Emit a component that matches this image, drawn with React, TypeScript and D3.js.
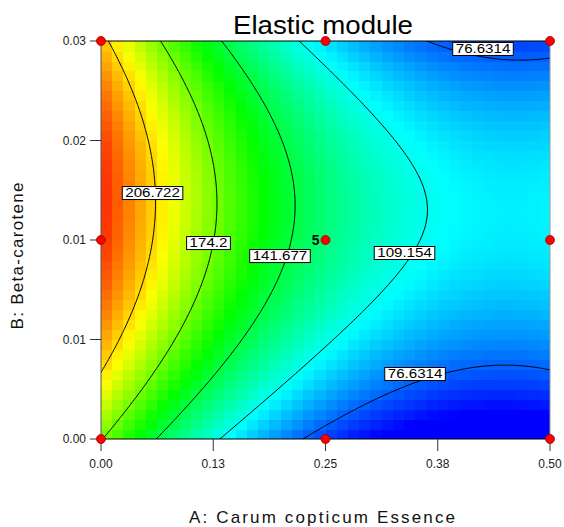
import React, { useRef, useEffect } from "react";
import * as d3 from "d3";

// factor ranges (actual units)
const aDomain = [0, 0.5];
const bDomain = [0, 0.03];

const xTicks = [0, 0.125, 0.25, 0.375, 0.5];
const xTickLabels = ["0.00", "0.13", "0.25", "0.38", "0.50"];
const yTicks = [0, 0.0075, 0.015, 0.0225, 0.03];
const yTickLabels = ["0.00", "0.01", "0.01", "0.02", "0.03"];

// response model in coded units a,b in [-1,1]:
// E = A0(b) + A1(b)*a + A2(b)*a^2 , Ak(b) = c0 + c1*b + c2*b^2
const coefA0 = [130.05, 15.65, -45.4];
const coefA1 = [-67.29, -3.17, 0.124];
const coefA2 = [40.85, -0.275, 0.077];

const contourLevels = [76.6314, 109.154, 141.677, 174.2, 206.722];

// contour labels placed on the lines (A, B)
const labelText = ["206.722", "174.2", "141.677", "109.154", "76.6314", "76.6314"];
const labelA = [0.0574, 0.1197, 0.1993, 0.338, 0.4254, 0.3497];
const labelB = [0.01854, 0.01477, 0.01379, 0.01402, 0.0294, 0.0049];

// design points
const designA = [0, 0.25, 0.5];
const designB = [0, 0.015, 0.03];
const centerRuns = 5;

// colour map stops (response value -> colour)
const colorStops = [58, 106, 153, 199, 246];
const colorRange = ["#0000ff", "#00ffff", "#00ff00", "#ffff00", "#ff0000"];

const gridN = 40;

function poly(c, b) {
  return c[0] + c[1] * b + c[2] * b * b;
}

function model(A, B) {
  const a = (A - 0.25) / 0.25;
  const b = (B - 0.015) / 0.015;
  return poly(coefA0, b) + poly(coefA1, b) * a + poly(coefA2, b) * a * a;
}

const font = "Arial, 'Liberation Sans', sans-serif";

function ContourChart(props) {
  const ref = useRef(null);
  const { width, height } = props;

  useEffect(() => {
    const svg = d3.select(ref.current);
    svg.selectAll("*").remove();

    const left = 101, top = 41, right = 550, bottom = 439;
    const x = d3.scaleLinear().domain(aDomain).range([left, right]);
    const y = d3.scaleLinear().domain(bDomain).range([bottom, top]);
    const color = d3.scaleLinear().domain(colorStops).range(colorRange).clamp(true);

    svg.append("defs").append("clipPath").attr("id", "plotClip")
      .append("rect").attr("x", left).attr("y", top)
      .attr("width", right - left).attr("height", bottom - top);

    // coloured cells
    const cells = [];
    const da = (aDomain[1] - aDomain[0]) / gridN;
    const db = (bDomain[1] - bDomain[0]) / gridN;
    for (let i = 0; i < gridN; i++) {
      for (let j = 0; j < gridN; j++) {
        const a0 = aDomain[0] + i * da;
        const b0 = bDomain[0] + j * db;
        cells.push({ a0, b0, v: model(a0 + da / 2, b0 + db / 2) });
      }
    }
    svg.append("g").attr("clip-path", "url(#plotClip)")
      .selectAll("rect").data(cells).join("rect")
      .attr("x", d => x(d.a0))
      .attr("y", d => y(d.b0 + db))
      .attr("width", x(da) - x(0) + 0.6)
      .attr("height", y(0) - y(db) + 0.6)
      .attr("fill", d => color(d.v))
      .attr("shape-rendering", "crispEdges");

    // contour lines (grid a bit wider than the plot, then clipped)
    const n = 241, m = 241;
    const ax0 = -0.01, ax1 = 0.51, by0 = -0.0006, by1 = 0.0306;
    const values = new Array(n * m);
    for (let j = 0; j < m; j++) {
      const B = by1 - (j * (by1 - by0)) / (m - 1);
      for (let i = 0; i < n; i++) {
        const A = ax0 + (i * (ax1 - ax0)) / (n - 1);
        values[j * n + i] = model(A, B);
      }
    }
    const contours = d3.contours().size([n, m]).thresholds(contourLevels)(values);
    const proj = d3.geoTransform({
      point: function (px, py) {
        const A = ax0 + (px * (ax1 - ax0)) / (n - 1);
        const B = by1 - (py * (by1 - by0)) / (m - 1);
        this.stream.point(x(A), y(B));
      },
    });
    svg.append("g").attr("clip-path", "url(#plotClip)")
      .selectAll("path").data(contours).join("path")
      .attr("d", d3.geoPath(proj))
      .attr("fill", "none")
      .attr("stroke", "#000")
      .attr("stroke-width", 1);

    // frame
    const frame = svg.append("g");
    frame.append("line").attr("x1", left).attr("x2", right).attr("y1", top).attr("y2", top).attr("stroke", "#000");
    frame.append("line").attr("x1", left).attr("x2", right).attr("y1", bottom).attr("y2", bottom).attr("stroke", "#000");
    frame.append("line").attr("x1", left).attr("x2", left).attr("y1", top).attr("y2", bottom).attr("stroke", "#555");
    frame.append("line").attr("x1", right).attr("x2", right).attr("y1", top).attr("y2", bottom).attr("stroke", "#999");

    // contour labels
    const lab = svg.append("g").selectAll("g")
      .data(labelText.map((t, i) => ({ t, a: labelA[i], b: labelB[i] })))
      .join("g")
      .attr("transform", d => `translate(${x(d.a)},${y(d.b)})`);
    lab.append("rect");
    lab.append("text")
      .attr("text-anchor", "middle")
      .attr("y", 4.3)
      .attr("font-family", font)
      .attr("font-size", 12)
      .attr("transform", "scale(1.26,1)")
      .text(d => d.t);
    lab.each(function () {
      const g = d3.select(this);
      const w = g.select("text").node().getComputedTextLength() * 1.26 + 6;
      g.select("rect")
        .attr("x", -w / 2).attr("y", -6.5)
        .attr("width", w).attr("height", 13)
        .attr("fill", "#fff").attr("stroke", "#000").attr("stroke-width", 1);
    });

    // axes
    const xa = svg.append("g");
    xa.selectAll("line").data(xTicks).join("line")
      .attr("x1", d => x(d)).attr("x2", d => x(d))
      .attr("y1", bottom).attr("y2", bottom + 12)
      .attr("stroke", "#333");
    xa.selectAll("text").data(xTicks).join("text")
      .attr("x", d => x(d)).attr("y", bottom + 29)
      .attr("text-anchor", "middle")
      .attr("font-family", font).attr("font-size", 12).attr("fill", "#222")
      .text((d, i) => xTickLabels[i]);

    const ya = svg.append("g");
    ya.selectAll("line").data(yTicks).join("line")
      .attr("x1", left - 11).attr("x2", left)
      .attr("y1", d => y(d)).attr("y2", d => y(d))
      .attr("stroke", "#333");
    ya.selectAll("text").data(yTicks).join("text")
      .attr("x", left - 15).attr("y", d => y(d) + 4)
      .attr("text-anchor", "end")
      .attr("font-family", font).attr("font-size", 12).attr("fill", "#222")
      .text((d, i) => yTickLabels[i]);

    // design points
    const pts = [];
    designA.forEach(a => designB.forEach(b => pts.push({ a, b })));
    svg.append("g").selectAll("circle").data(pts).join("circle")
      .attr("cx", d => x(d.a)).attr("cy", d => y(d.b)).attr("r", 4.5)
      .attr("fill", "#ff0000").attr("stroke", "#900").attr("stroke-width", 0.8);
    svg.append("text")
      .attr("x", x(0.25) - 6).attr("y", y(0.015) + 5)
      .attr("text-anchor", "end")
      .attr("font-family", font).attr("font-size", 14).attr("font-weight", "bold")
      .text(centerRuns);

    // titles
    svg.append("text")
      .attr("x", 323).attr("y", 34)
      .attr("text-anchor", "middle")
      .attr("font-family", font).attr("font-size", 26)
      .attr("textLength", 180).attr("lengthAdjust", "spacingAndGlyphs")
      .text("Elastic module");
    svg.append("text")
      .attr("x", 322).attr("y", 523)
      .attr("text-anchor", "middle")
      .attr("font-family", font).attr("font-size", 17).attr("fill", "#111")
      .attr("textLength", 266).attr("lengthAdjust", "spacing")
      .text("A: Carum copticum Essence");
    svg.append("text")
      .attr("transform", "translate(23,256) rotate(-90)")
      .attr("text-anchor", "middle")
      .attr("font-family", font).attr("font-size", 17).attr("fill", "#111")
      .attr("textLength", 147).attr("lengthAdjust", "spacing")
      .text("B: Beta-carotene");
  }, [width, height]);

  return (
    <svg ref={ref} width={width} height={height}
      style={{ position: "absolute", left: 0, top: 0, background: "#fff" }} />
  );
}

export default function App() {
  return <ContourChart width={564} height={527} />;
}
